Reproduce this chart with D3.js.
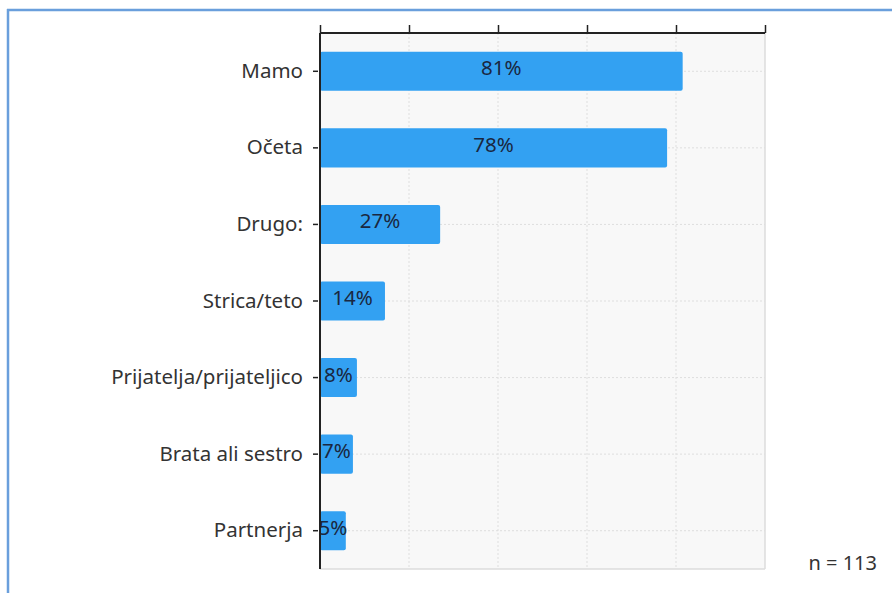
<!DOCTYPE html>
<html><head><meta charset="utf-8">
<script src="https://cdn.jsdelivr.net/npm/d3@7"></script>
<style>
html,body{margin:0;padding:0;background:#fff;}
svg{display:block;}
text{font-family:"Noto Sans",sans-serif;}
</style></head>
<body>
<svg id="chart" width="892" height="593"></svg>
<script>
const categories = ["Mamo","Očeta","Drugo:","Strica/teto","Prijatelja/prijateljico","Brata ali sestro","Partnerja"];
const values = [81.5, 78, 27, 14.6, 8.3, 7.4, 5.8];
const labels = ["81%","78%","27%","14%","8%","7%","5%"];
const xTicks = [0,20,40,60,80,100];
const note = "n = 113";

(function(){
const svg = d3.select("#chart");
const L = 320, R = 765, T = 33, B = 569;
const FS = 20.5;

// frame
svg.append("line").attr("x1",7).attr("x2",892).attr("y1",10).attr("y2",10).attr("stroke","#6a9fdc").attr("stroke-width",2.5);
svg.append("line").attr("x1",8).attr("x2",8).attr("y1",9).attr("y2",593).attr("stroke","#6a9fdc").attr("stroke-width",2.5);

const x = d3.scaleLinear().domain([0,100]).range([L,R]);
const y = d3.scaleBand().domain(categories).range([T,B]).paddingInner(0.49).paddingOuter(0.245);

// plot background
svg.append("rect").attr("x",L).attr("y",T).attr("width",R-L).attr("height",B-T).attr("fill","#f8f8f8");
svg.append("line").attr("x1",R).attr("x2",R).attr("y1",T).attr("y2",B).attr("stroke","#dcdcdc").attr("stroke-width",1.5);
svg.append("line").attr("x1",L).attr("x2",R).attr("y1",B).attr("y2",B).attr("stroke","#dcdcdc").attr("stroke-width",1.5);

// grid
svg.append("g").selectAll("line").data(xTicks.slice(1,-1)).join("line")
  .attr("x1",d=>x(d)).attr("x2",d=>x(d)).attr("y1",T).attr("y2",B)
  .attr("stroke","#dedede").attr("stroke-dasharray","2,2");
svg.append("g").selectAll("line").data(categories).join("line")
  .attr("x1",L).attr("x2",R).attr("y1",d=>y(d)+y.bandwidth()/2).attr("y2",d=>y(d)+y.bandwidth()/2)
  .attr("stroke","#dedede").attr("stroke-dasharray","2,2");

// bars
svg.append("g").selectAll("rect").data(values).join("rect")
  .attr("x",L).attr("y",(d,i)=>y(categories[i]))
  .attr("width",d=>x(d)-L).attr("height",y.bandwidth())
  .attr("rx",2).attr("fill","#33a1f2");

// bar labels
svg.append("g").selectAll("text").data(values).join("text")
  .attr("x",d=>(L+x(d))/2).attr("y",(d,i)=>y(categories[i])+y.bandwidth()/2-4)
  .attr("text-anchor","middle").attr("dominant-baseline","central")
  .attr("font-size",FS).attr("fill","#1a2740")
  .text((d,i)=>labels[i]);

// top axis
const topAxis = svg.append("g").attr("transform",`translate(0,${T})`)
  .call(d3.axisTop(x).tickValues(xTicks).tickSize(8).tickFormat(""));
topAxis.select(".domain").attr("stroke","#222").attr("stroke-width",2).attr("d",`M${L},0H${R}`);
topAxis.selectAll(".tick line").attr("stroke","#222").attr("stroke-width",1.5);

// left axis
const leftAxis = svg.append("g").attr("transform",`translate(${L},0)`)
  .call(d3.axisLeft(y).tickSize(7).tickPadding(10));
leftAxis.select(".domain").attr("stroke","#222").attr("stroke-width",2).attr("d",`M0,${T}V${B}`);
leftAxis.selectAll(".tick line").attr("stroke","#222").attr("stroke-width",1.5).attr("x1",-2);
leftAxis.selectAll(".tick text").attr("font-size",FS).attr("fill","#333").attr("font-family","Noto Sans, sans-serif");

svg.append("text").attr("x",877).attr("y",570).attr("text-anchor","end")
  .attr("font-size",20).attr("fill","#333").text(note);
})();
</script>
</body></html>
